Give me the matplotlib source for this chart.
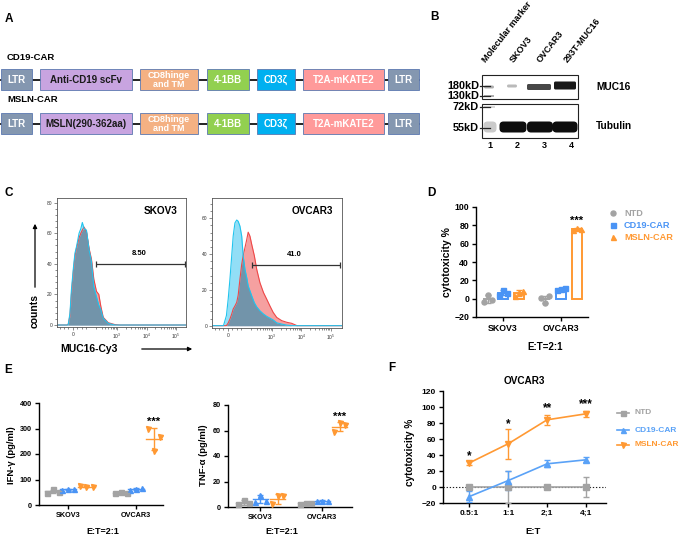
import matplotlib
matplotlib.use('Agg')
import matplotlib.pyplot as plt
import numpy as np
from matplotlib.patches import Rectangle, FancyBboxPatch
from matplotlib.ticker import MultipleLocator, FixedLocator

plt.rcParams['font.family'] = ['Liberation Sans', 'DejaVu Sans']
plt.rcParams['font.weight'] = 'bold'
plt.rcParams['axes.labelweight'] = 'bold'
plt.rcParams['mathtext.default'] = 'regular'

# ---------------- DATA ----------------
# Panel A
constructs = ['CD19-CAR', 'MSLN-CAR']
segments_cd19 = ['LTR', 'Anti-CD19 scFv', 'CD8hinge\nand TM', '4-1BB', 'CD3ζ', 'T2A-mKATE2', 'LTR']
segments_msln = ['LTR', 'MSLN(290-362aa)', 'CD8hinge\nand TM', '4-1BB', 'CD3ζ', 'T2A-mKATE2', 'LTR']

# Panel B
blot_lanes = ['Molecular marker', 'SKOV3', 'OVCAR3', '293T-MUC16']
lane_numbers = ['1', '2', '3', '4']
mw_labels = ['180kD', '130kD', '72kD', '55kD']
muc16_intensity = [0.35, 0.3, 0.8, 1.0]
tubulin_intensity = [0.22, 1.0, 1.0, 1.0]

# Panel C (biexponential display units: 0 -> 0, 10^3 -> 1.5, 10^4 -> 2.5, 10^5 -> 3.5)
hist_ticklabels = ['0', '$10^3$', '$10^4$', '$10^5$']
skov3_u = [-0.54, -0.20, -0.16, -0.10, -0.05, 0.02, 0.07, 0.12, 0.21, 0.27, 0.32, 0.38, 0.46,
           0.55, 0.63, 0.71, 0.80, 0.88, 0.95, 1.03, 1.20, 1.42, 1.60, 3.84]
skov3_ctrl = [0, 0, 0, 7.7, 23, 38, 47, 51, 60, 63, 67, 63, 62,
              49, 41.5, 25, 18.5, 13, 10, 4.4, 1.1, 0, 0, 0]
skov3_muc = [0, 0, 0.5, 6, 20, 36, 45, 50, 57, 60, 62, 64, 61,
             50, 43, 30, 22, 20, 12, 5, 1.5, 0.3, 0, 0]
skov3_gate = 8.50
ovcar3_u = [-0.54, -0.15, -0.05, 0.01, 0.07, 0.13, 0.18, 0.24, 0.30, 0.35, 0.41, 0.47, 0.52, 0.58,
            0.64, 0.69, 0.75, 0.81, 0.90, 0.98, 1.09, 1.21, 1.32, 1.43, 1.54, 1.66, 1.83,
            2.00, 2.17, 2.35, 3.88]
ovcar3_ctrl = [0, 0, 5.6, 14.8, 26, 39, 50, 57.4, 59, 58.3, 55.6, 50, 39, 31.5,
               26.9, 22.2, 19.5, 16.7, 12.8, 10.5, 8.3, 6.5, 5.2, 4.2, 3.2, 1.6, 0.9,
               0.3, 0, 0, 0]
ovcar3_muc = [0, 0, 0, 1.5, 3.7, 6.5, 9.3, 11, 13, 17, 26, 34.3, 39, 43.5,
              48, 52.2, 50, 45.4, 39, 31.5, 24, 18.5, 14.8, 11, 7.4, 4.6, 2.8,
              1.9, 1.3, 0, 0]
ovcar3_gate = 41.0

# Panel D (cytotoxicity %, E:T=2:1)
d_groups = ['SKOV3', 'OVCAR3']
d_series = ['NTD', 'CD19-CAR', 'MSLN-CAR']
d_ntd = [[-3.6, 4.4, -1.1], [1.1, -4.7, 2.5]]
d_cd19 = [[3.6, 9.8, 6.5], [9.8, 10.9, 11.6]]
d_msln = [[2.5, 7.3, 8.4], [75.3, 77.1, 76.4]]

# Panel E
e_groups = ['SKOV3', 'OVCAR3']
ifn_ntd = [[46, 61, 52], [48, 52, 46]]
ifn_cd19 = [[59, 62, 63], [58, 62, 65]]
ifn_msln = [[74, 72, 69], [298, 212, 268]]
tnf_ntd = [[2, 5.5, 3], [2, 3.5, 3]]
tnf_cd19 = [[4, 9.5, 5], [4.5, 5, 5]]
tnf_msln = [[2, 9, 8.5], [59, 65.5, 64.5]]

# Panel F
f_ratios = ['0.5:1', '1:1', '2;1', '4;1']
f_ntd = [0, 0, 0, 0]
f_ntd_sd = [2, 20, 1, 13]
f_cd19 = [-12, 8, 29, 34]
f_cd19_sd = [7, 12, 4.5, 3]
f_msln = [30, 54, 84, 91.5]
f_msln_sd = [2, 19, 6.5, 4]
f_stars = ['*', '*', '**', '***']

# ---------------- STYLE ----------------
C_NTD = '#a3a3a3'
C_CD19 = '#4a94f5'
C_MSLN = '#ff9933'
C_CD19F = '#5aa2f7'

W, H = 685, 537
fig = plt.figure(figsize=(W / 100, H / 100), dpi=100)


def add_ax(l, t, r, b):
    return fig.add_axes([l / W, 1 - b / H, (r - l) / W, (b - t) / H])


ov = fig.add_axes([0, 0, 1, 1])
ov.set_xlim(0, W)
ov.set_ylim(H, 0)
ov.axis('off')

# panel letters
for letter, (x, y) in zip('ABCDEF', [(5, 19), (430, 17), (5, 193), (427, 193), (4, 370), (388, 368)]):
    ov.text(x, y, letter, fontsize=8.5, fontweight='bold', ha='left', va='center')

# ---------------- Panel A ----------------
seg_x = [(1, 32), (40, 132), (140, 198), (207, 249), (257, 295), (303, 384), (388, 419)]
seg_fc = ['#8497b0', '#c8a4e0', '#f4b183', '#92d050', '#00b0f0', '#ff9a9a', '#8497b0']
seg_tc = ['white', '#1a1a1a', 'white', 'white', 'white', 'white', 'white']
rows = [(69, 90, 58), (113, 134, 100)]
for name, segs, (yt, yb, ylab) in zip(constructs, [segments_cd19, segments_msln], rows):
    ov.text(7, ylab, name, fontsize=6.8, fontweight='bold', ha='left', va='center')
    yc = (yt + yb) / 2
    ov.plot([1, 419], [yc, yc], color='#111111', lw=1.3, zorder=1)
    for s, (x0, x1), fc, tc in zip(segs, seg_x, seg_fc, seg_tc):
        ov.add_patch(Rectangle((x0, yt), x1 - x0, yb - yt, fc=fc, ec='#5b78b0', lw=0.6, zorder=2))
        ov.text((x0 + x1) / 2, yc + 0.5, s, fontsize=7.0 if '\n' not in s else 6.5,
                fontweight='bold', color=tc, ha='center', va='center', zorder=3,
                linespacing=0.9)

# ---------------- Panel B ----------------
lane_x = [490, 517, 544, 571]
for lab, x in zip(blot_lanes, lane_x):
    ov.text(x - 2, 64, lab, fontsize=6.5, fontweight='bold', rotation=52,
            rotation_mode='anchor', ha='left', va='bottom')
for lab, x in zip(lane_numbers, lane_x):
    ov.text(x, 146, lab, fontsize=6.5, fontweight='bold', ha='center', va='center')
ov.add_patch(Rectangle((482, 75), 96, 24, fc='white', ec='#222222', lw=0.8, zorder=2))
ov.add_patch(Rectangle((482, 104), 96, 34, fc='white', ec='#222222', lw=0.8, zorder=2))
# MUC16 bands
band_cx = [489, 512, 539, 565]
muc_w = [10, 10, 24, 22]
muc_y = [(85.5, 3), (84.5, 3), (84, 6), (81.5, 8)]
for i in range(4):
    g = 1 - 0.9 * muc16_intensity[i]
    yy, hh = muc_y[i]
    ov.add_patch(FancyBboxPatch((band_cx[i] - muc_w[i] / 2, yy), muc_w[i], hh,
                                boxstyle='round,pad=0,rounding_size=1.5', fc=str(g), ec='none', zorder=3))
ov.add_patch(Rectangle((484, 94.5), 10, 2, fc=str(1 - 0.9 * muc16_intensity[0]), ec='none', zorder=3))
# Tubulin bands
tub_w = [13, 27, 26, 25]
tub_cx = [490, 513, 540, 565]
for i in range(4):
    g = 1 - 0.95 * tubulin_intensity[i]
    ov.add_patch(FancyBboxPatch((tub_cx[i] - tub_w[i] / 2, 121.5), tub_w[i], 11,
                                boxstyle='round,pad=0,rounding_size=4', fc=str(g), ec='none', zorder=3))
ov.add_patch(Rectangle((484, 106), 11, 2, fc='0.85', ec='none', zorder=3))
for lab, y in zip(mw_labels, [86, 96, 107, 128]):
    ov.text(479, y, lab, fontsize=7.8, fontweight='bold', ha='right', va='center')
    ov.plot([480, 490], [y, y], color='#222222', lw=0.9, zorder=4)
ov.text(596, 87, 'MUC16', fontsize=7.3, fontweight='bold', ha='left', va='center')
ov.text(596, 126, 'Tubulin', fontsize=7.3, fontweight='bold', ha='left', va='center')

# ---------------- Panel C ----------------
def hist_panel(ax, u, ctrl, muc, ymax, yticks, title, gate_u, gate_y, gate_txt, lab_y):
    u = np.asarray(u); ctrl = np.asarray(ctrl); muc = np.asarray(muc)
    ax.fill_between(u, 0, muc, color='#f5a0a0', lw=0)
    ax.fill_between(u, 0, ctrl, color='#92def6', lw=0)
    ax.fill_between(u, 0, np.minimum(ctrl, muc), color='#7294aa', lw=0)
    ax.plot(u, muc, color='#ee4848', lw=0.8)
    ax.plot(u, ctrl, color='#20c4ee', lw=0.8)
    ax.set_ylim(-1.3, ymax)
    ax.set_xlim(u[0], u[-1])
    ax.set_yticks(yticks)
    ax.set_yticklabels([str(t) for t in yticks])
    ax.yaxis.set_minor_locator(MultipleLocator(4))
    ax.set_xticks([0, 1.5, 2.5, 3.5])
    ax.set_xticklabels(hist_ticklabels)
    minors = [-0.45, -0.3, -0.15, 0.15, 0.3, 0.45]
    for d in [0.5, 1.5, 2.5]:
        minors += [d + np.log10(k) for k in range(2, 10)]
    ax.xaxis.set_minor_locator(FixedLocator(minors))
    ax.tick_params(which='both', labelsize=3.5, width=0.4, length=2, pad=1.5, colors='#333333')
    ax.tick_params(which='minor', length=1.2)
    for lbl in ax.get_xticklabels() + ax.get_yticklabels():
        lbl.set_fontweight('normal')
    for sp in ax.spines.values():
        sp.set_linewidth(0.6)
        sp.set_color('#555555')
    ax.text(0.93, 0.9, title, transform=ax.transAxes, fontsize=7.2, fontweight='bold',
            ha='right', va='center')
    ax.errorbar([(gate_u[0] + gate_u[1]) / 2], [gate_y], xerr=[(gate_u[1] - gate_u[0]) / 2],
                fmt='none', ecolor='#333333', elinewidth=0.9, capsize=2.5, capthick=0.9)
    ax.text(sum(gate_u) / 2 - 0.05, lab_y, gate_txt, fontsize=5.5, fontweight='bold',
            ha='center', va='center')


hc1 = add_ax(57, 198, 186, 327)
hist_panel(hc1, skov3_u, skov3_ctrl, skov3_muc, 83, [0, 20, 40, 60, 80], 'SKOV3',
           (0.78, 3.80), 40, f'{skov3_gate:.2f}', 47)
hc2 = add_ax(212, 198, 342, 328)
hist_panel(hc2, ovcar3_u, ovcar3_ctrl, ovcar3_muc, 71.3, [0, 20, 40, 60], 'OVCAR3',
           (0.83, 3.81), 34, f'{ovcar3_gate:.1f}', 40)

ov.text(35, 311, 'counts', rotation=90, fontsize=7.5, fontweight='bold', ha='center', va='center')
ov.annotate('', xy=(35, 221), xytext=(35, 290),
            arrowprops=dict(arrowstyle='-|>', color='black', lw=0.9, mutation_scale=6))
ov.text(60, 349, 'MUC16-Cy3', fontsize=7.5, fontweight='bold', ha='left', va='center')
ov.annotate('', xy=(195, 349), xytext=(139, 349),
            arrowprops=dict(arrowstyle='-|>', color='black', lw=0.9, mutation_scale=6))


def prism_axes(ax, fs):
    for s in ['top', 'right']:
        ax.spines[s].set_visible(False)
    for s in ['left', 'bottom']:
        ax.spines[s].set_linewidth(1.0)
    ax.tick_params(width=1.0, length=3, labelsize=fs, pad=2)
    for lbl in ax.get_xticklabels() + ax.get_yticklabels():
        lbl.set_fontweight('bold')


# ---------------- Panel D ----------------
axd = add_ax(476, 207, 588, 317)
offs = [-0.27, 0.0, 0.28]
jit = [-0.07, 0.0, 0.07]
d_data = [d_ntd, d_cd19, d_msln]
d_cols = [C_NTD, C_CD19, C_MSLN]
d_marks = ['o', 's', '^']
for si, (vals, col, mk) in enumerate(zip(d_data, d_cols, d_marks)):
    for gi in range(2):
        v = np.array(vals[gi])
        x = gi + offs[si]
        axd.bar(x, v.mean(), width=0.17, facecolor='white', edgecolor=col, lw=1.4, zorder=2)
        axd.errorbar(x, v.mean(), yerr=v.std(ddof=1), fmt='none', ecolor=col, elinewidth=1,
                     capsize=2, capthick=1, zorder=3)
        axd.plot([x + j for j in jit], v, mk, color=col, ms=3.6, mec=col, zorder=4, ls='none')
axd.set_ylim(-20, 100)
axd.set_xlim(-0.47, 1.47)
axd.set_yticks(range(-20, 101, 20))
axd.set_xticks([0, 1])
axd.set_xticklabels(d_groups)
prism_axes(axd, 6.3)
ov.text(447, 262, 'cytotoxicity %', rotation=90, fontsize=7.5, fontweight='bold',
        ha='center', va='center')
axd.text(1.28, 85, '***', fontsize=8, fontweight='bold', ha='center', va='center')
ov.text(545, 347, 'E:T=2:1', fontsize=7, fontweight='bold', ha='center', va='center')
for name, col, mk, y in zip(d_series, d_cols, d_marks, [213, 225, 237]):
    ov.plot([613], [y], mk, color=col, ms=3.6)
    ov.text(624, y, name, color=col, fontsize=6.6, fontweight='bold', ha='left', va='center')

# ---------------- Panel E ----------------
def dot_panel(ax, datas, offs_, ymax, yticks):
    cols = [C_NTD, C_CD19, C_MSLN]
    marks = ['s', '^', 'v']
    jt = [-0.09, 0.0, 0.09]
    for si, (vals, col, mk) in enumerate(zip(datas, cols, marks)):
        for gi in range(2):
            v = np.array(vals[gi])
            x = gi + offs_[si]
            ax.plot([x + j for j in jt], v, mk, color=col, ms=3.6, ls='none', zorder=3)
            m = v.mean()
            ax.plot([x - 0.12, x + 0.12], [m, m], color=col, lw=1.0, zorder=4)
            ax.errorbar(x, m, yerr=v.std(ddof=1), fmt='none', ecolor=col, elinewidth=1,
                        capsize=2.2, capthick=1, zorder=4)
    ax.set_ylim(0, ymax)
    ax.set_yticks(yticks)
    ax.set_xticks([0, 1])
    ax.set_xticklabels(e_groups)
    prism_axes(ax, 5.2)


axe1 = add_ax(39, 403, 163, 505)
dot_panel(axe1, [ifn_ntd, ifn_cd19, ifn_msln], [-0.22, 0.0, 0.27], 400, [0, 100, 200, 300, 400])
axe1.set_xlim(-0.43, 1.40)
axe1.text(1.26, 325, '***', fontsize=8, fontweight='bold', ha='center', va='center')
ov.text(12, 455, 'IFN-γ (pg/ml)', rotation=90, fontsize=6.8, fontweight='bold',
        ha='center', va='center')

axe2 = add_ax(228, 405, 352, 507)
dot_panel(axe2, [tnf_ntd, tnf_cd19, tnf_msln], [-0.27, 0.0, 0.28], 80, [0, 20, 40, 60, 80])
axe2.set_xlim(-0.52, 1.48)
axe2.text(1.28, 71, '***', fontsize=8, fontweight='bold', ha='center', va='center')
ov.text(204, 455, 'TNF-α (pg/ml)', rotation=90, fontsize=6.8, fontweight='bold',
        ha='center', va='center')

for (mx, tx, ys) in [(72, 82, [410, 419, 429]), (258, 270, [412, 421, 431])]:
    for name, col, mk, y in zip(d_series, [C_NTD, C_CD19, C_MSLN], ['s', '^', 'v'], ys):
        ov.plot([mx], [y], mk, color=col, ms=3.4)
        ov.text(tx, y, name, color=col, fontsize=6.4, fontweight='bold', ha='left', va='center')
ov.text(103, 532, 'E:T=2:1', fontsize=6.5, fontweight='bold', ha='center', va='center')
ov.text(282, 532, 'E:T=2:1', fontsize=6.5, fontweight='bold', ha='center', va='center')

# ---------------- Panel F ----------------
axf = add_ax(443, 391, 606, 503)
xf = np.arange(len(f_ratios))
axf.axhline(0, color='#222222', lw=0.8, ls=(0, (1.2, 1.6)), zorder=1)
for vals, sd, col, mk, name in [(f_ntd, f_ntd_sd, C_NTD, 's', 'NTD'),
                                (f_cd19, f_cd19_sd, C_CD19F, '^', 'CD19-CAR'),
                                (f_msln, f_msln_sd, C_MSLN, 'v', 'MSLN-CAR')]:
    axf.errorbar(xf, vals, yerr=sd, color=col, marker=mk, ms=4, lw=1.2, elinewidth=1,
                 capsize=2.5, capthick=1, zorder=3)
axf.set_ylim(-20, 120)
axf.set_xlim(-0.67, 3.51)
axf.set_yticks(range(-20, 121, 20))
axf.set_xticks(xf)
axf.set_xticklabels(f_ratios)
prism_axes(axf, 6.0)
ov.text(410, 452, 'cytotoxicity %', rotation=90, fontsize=7.2, fontweight='bold',
        ha='center', va='center')
axf.set_title('OVCAR3', fontsize=7.2, fontweight='bold', pad=5)
for xi, (s, y) in enumerate(zip(f_stars, [38, 78, 98, 103])):
    axf.text(xi, y, s, fontsize=8.5, fontweight='bold', ha='center', va='center')
for name, col, mk, y in zip(d_series, [C_NTD, C_CD19F, C_MSLN], ['s', '^', 'v'], [413, 430, 445]):
    ov.plot([617, 629], [y, y], color=col, lw=1.2)
    ov.plot([623], [y], mk, color=col, ms=3.6)
    ov.text(635, y, name, color=col, fontsize=6.0, fontweight='bold', ha='left', va='center')
ov.text(533, 532, 'E:T', fontsize=6.8, fontweight='bold', ha='center', va='center')

fig.savefig('out.png', dpi=100)
